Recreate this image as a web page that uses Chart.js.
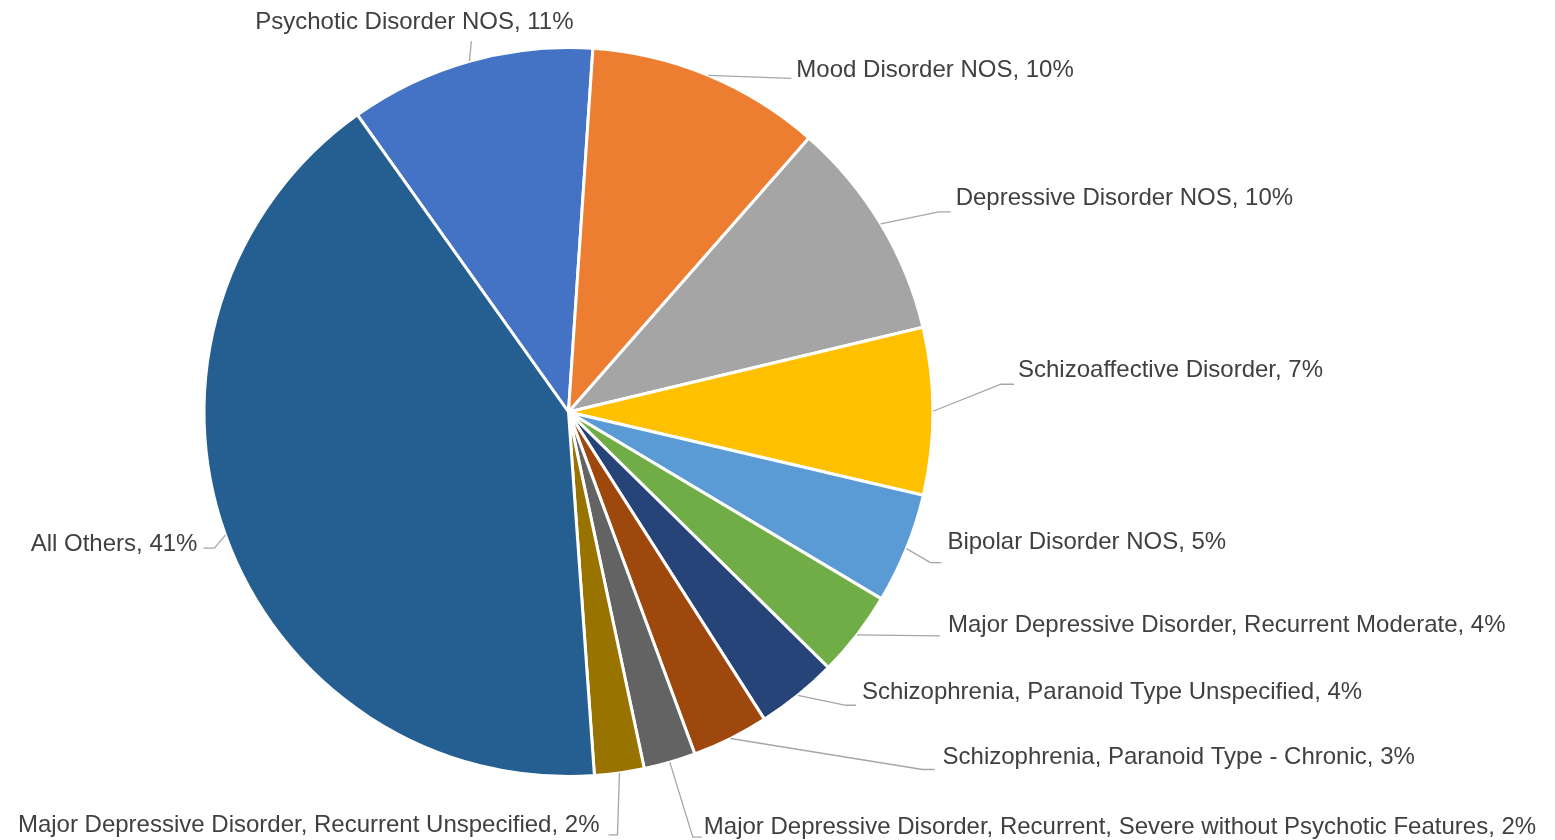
<!DOCTYPE html>
<html>
<head>
<meta charset="utf-8">
<title>Diagnosis share</title>
<script src="https://cdn.jsdelivr.net/npm/chart.js@4.4.1/dist/chart.umd.min.js"></script>
<style>
  html, body { margin: 0; padding: 0; background: #ffffff; }
  #wrap { width: 1555px; height: 840px; position: relative; }
</style>
</head>
<body>
<div id="wrap"><canvas id="pieChart"></canvas></div>
<script>
// categories, in drawing order (clockwise)
const categories = [
    'Psychotic Disorder NOS',
    'Mood Disorder NOS',
    'Depressive Disorder NOS',
    'Schizoaffective Disorder',
    'Bipolar Disorder NOS',
    'Major Depressive Disorder, Recurrent Moderate',
    'Schizophrenia, Paranoid Type Unspecified',
    'Schizophrenia, Paranoid Type - Chronic',
    'Major Depressive Disorder, Recurrent, Severe without Psychotic Features',
    'Major Depressive Disorder, Recurrent Unspecified',
    'All Others'
];

// share of cases, percent
const shares = [10.9, 10.4, 9.8, 7.4, 4.9, 3.8, 3.6, 3.4, 2.3, 2.2, 41.3];

const sliceColors = [
    '#4472C4', '#ED7D31', '#A5A5A5', '#FFC000', '#5B9BD5', '#70AD47',
    '#264478', '#9E480E', '#636363', '#997300', '#255E91'
];

// label placement, relative to the point where each slice's middle meets the rim
// elbow: end of slanted leader, tail: horizontal run after elbow, text: text anchor
const labelLayout = [
    { elbow: [2, -20],   tail: 0,   text: [-55, -39], align: 'center' },
    { elbow: [83, 3],    tail: 0,   text: [88, -5],   align: 'left' },
    { elbow: [58, -12],  tail: 12,  text: [75, -25],  align: 'left' },
    { elbow: [68, -27],  tail: 13,  text: [85, -41],  align: 'left' },
    { elbow: [24, 14],   tail: 11,  text: [41, -6],   align: 'left' },
    { elbow: [83, 1],    tail: 0,   text: [91, -9],   align: 'left' },
    { elbow: [48, 10],   tail: 10,  text: [64, -3],   align: 'left' },
    { elbow: [192, 31],  tail: 12,  text: [212, 19],  align: 'left' },
    { elbow: [23, 75],   tail: 9,   text: [34, 65],   align: 'left' },
    { elbow: [-2, 62],   tail: -9,  text: [-20, 52],  align: 'right' },
    { elbow: [-11, 13],  tail: -11, text: [-28, 9],   align: 'right' }
];

const total = shares.reduce((a, b) => a + b, 0);

// draws "Name, N%" labels with leader lines like the spreadsheet chart
const leaderLabels = {
    id: 'leaderLabels',
    afterDatasetsDraw(chart) {
        const ctx = chart.ctx;
        const meta = chart.getDatasetMeta(0);
        ctx.save();
        ctx.font = '24px "Liberation Sans", Arial, sans-serif';
        ctx.textBaseline = 'middle';
        meta.data.forEach((arc, i) => {
            const p = arc.getProps(['x', 'y', 'startAngle', 'endAngle', 'outerRadius'], true);
            const mid = (p.startAngle + p.endAngle) / 2;
            const ex = p.x + Math.cos(mid) * p.outerRadius;
            const ey = p.y + Math.sin(mid) * p.outerRadius;
            const lay = labelLayout[i];
            const bx = ex + lay.elbow[0];
            const by = ey + lay.elbow[1];

            ctx.strokeStyle = '#A6A6A6';
            ctx.lineWidth = 1.3;
            ctx.beginPath();
            ctx.moveTo(ex, ey);
            ctx.lineTo(bx, by);
            if (lay.tail) ctx.lineTo(bx + lay.tail, by);
            ctx.stroke();

            const pct = Math.round(shares[i] / total * 100);
            ctx.fillStyle = '#404040';
            ctx.textAlign = lay.align;
            ctx.fillText(categories[i] + ', ' + pct + '%', ex + lay.text[0], ey + lay.text[1]);
        });
        ctx.restore();
    }
};

new Chart(document.getElementById('pieChart'), {
    type: 'pie',
    data: {
        labels: categories,
        datasets: [{
            data: shares,
            backgroundColor: sliceColors,
            borderColor: '#ffffff',
            borderWidth: 3
        }]
    },
    options: {
        responsive: true,
        maintainAspectRatio: false,
        animation: false,
        rotation: -35.4,
        layout: { padding: { left: 202, right: 620, top: 46, bottom: 62 } },
        plugins: {
            legend: { display: false },
            tooltip: { enabled: false }
        }
    },
    plugins: [leaderLabels]
});
</script>
</body>
</html>
